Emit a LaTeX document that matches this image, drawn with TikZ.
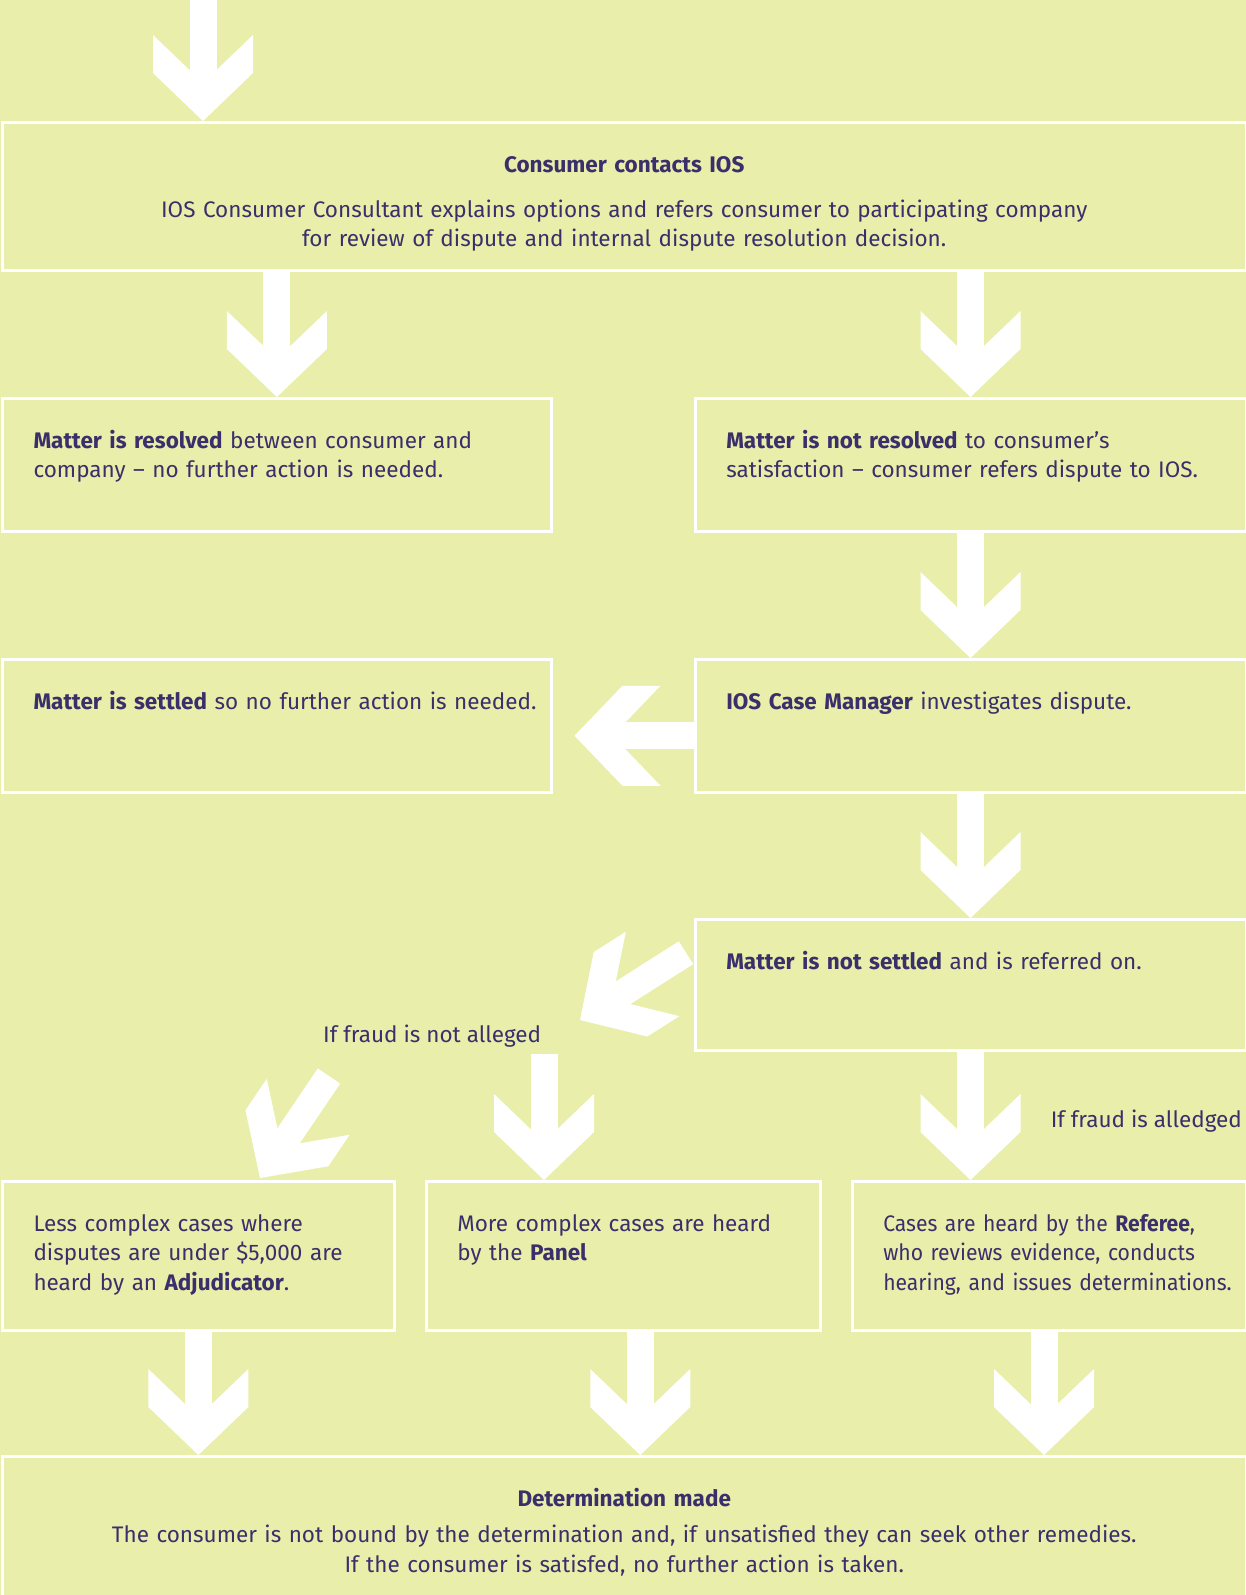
\documentclass[tikz,border=0pt]{standalone}
\usepackage{fontspec}
\setmainfont{Fira Sans}
\hyphenpenalty=10000
\exhyphenpenalty=10000

\definecolor{iosbg}{HTML}{E9EFAA}
\definecolor{iostext}{HTML}{3A2F6B}

\begin{document}
\begin{tikzpicture}[
    x=1pt, y=1pt,
    every node/.style={text=iostext, font=\fontsize{22.5}{29.5}\selectfont},
    box/.style={
      draw=white,
      line width=2.5pt,
      anchor=north west,
      align=left,
      inner xsep=31pt,
      inner ysep=0pt,
      text height=50pt,
    },
    label text/.style={inner sep=0pt},
    flow/.style={draw=white, line width=27pt, shorten >=50pt},
    head/.style={pos=1, sloped, allow upside down},
    flowhead/.pic={
      \fill[white] (0,0) -- (-48,50) -- (-86,50) -- (-51,13.5)
        -- (-51,-13.5) -- (-86,-50) -- (-48,-50) -- cycle;
    },
  ]
  \fill[iosbg] (0,0) rectangle (1246,-1595);
  \useasboundingbox (0,0) rectangle (1246,-1595);

  % boxes
  \node[box, align=center, text width=1181.5pt, text depth=98pt] (consumer) at (1.25,-121)
    {\textbf{Consumer contacts IOS}\\[15.5pt]
     IOS Consumer Consultant explains options and refers consumer to participating company\\
     for review of dispute and internal dispute resolution decision.};
  \node[box, text width=486.75pt, text depth=83pt] (resolved) at (1.25,-397)
    {\textbf{Matter is resolved} between consumer and\\
     company -- no further action is needed.};
  \node[box, text width=488.5pt, text depth=83pt] (notresolved) at (694,-397)
    {\textbf{Matter is not resolved} to consumer's\\
     satisfaction -- consumer refers dispute to IOS.};
  \node[box, text width=486.75pt, text depth=83pt] (settled) at (1.25,-658)
    {\mbox{\textbf{Matter is settled} so no further action is needed.}};
  \node[box, text width=488.5pt, text depth=83pt] (manager) at (694,-658)
    {\textbf{IOS Case Manager} investigates dispute.};
  \node[box, text width=488.5pt, text depth=81pt] (notsettled) at (694,-918)
    {\textbf{Matter is not settled} and is referred on.};
  \node[box, text width=329.75pt, text depth=99pt] (adjudicator) at (1.25,-1180)
    {Less complex cases where\\
     disputes are under \$5,000 are\\
     heard by an \textbf{Adjudicator}.};
  \node[box, text width=332pt, text depth=99pt] (panel) at (425,-1180)
    {More complex cases are heard\\
     by the \textbf{Panel}};
  \node[box, text width=331.5pt, text depth=99pt,
        font=\fontsize{22.5}{29.5}\selectfont\addfontfeatures{FakeStretch=0.94}] (referee) at (851,-1180)
    {\mbox{Cases are heard by the \textbf{Referee},}\\
     \mbox{who reviews evidence, conducts}\\
     \mbox{hearing, and issues determinations.}};
  \node[box, align=center, text width=1181.5pt, text depth=110pt] (determination) at (1.25,-1455)
    {\textbf{Determination made}\\[7pt]
     The consumer is not bound by the determination and, if unsatisfied they can seek other remedies.\\
     If the consumer is satisfed, no further action is taken.};

  \node[label text, anchor=base west] (notalleged) at (323,-1042) {If fraud is not alleged};
  \node[label text, anchor=base east] (alleged) at (1242,-1127) {If fraud is alledged};

  % arrows
  \coordinate (entry) at (203,0);
  \coordinate (notalleged-tip) at (580,-1020);
  \coordinate (adjudicator-from) at (329,-1076);
  \coordinate (adjudicator-tip) at (260,-1178);
  \coordinate (panel-from) at (544,-1054);

  \draw[flow] (entry) -- (entry |- consumer.north) pic[head]{flowhead};
  \draw[flow] (consumer.south -| resolved.north) -- (resolved.north) pic[head]{flowhead};
  \draw[flow] (consumer.south -| notresolved.north) -- (notresolved.north) pic[head]{flowhead};
  \draw[flow] (notresolved.south) -- (manager.north) pic[head]{flowhead};
  \draw[flow] ([yshift=-10pt]manager.west) -- ([xshift=22pt,yshift=-10pt]settled.east) pic[head]{flowhead};
  \draw[flow] (manager.south) -- (notsettled.north) pic[head]{flowhead};
  \draw[flow] ([xshift=-8pt,yshift=32pt]notsettled.west) -- (notalleged-tip) pic[head]{flowhead};
  \draw[flow] (adjudicator-from) -- (adjudicator-tip) pic[head]{flowhead};
  \draw[flow] (panel-from) -- (panel-from |- panel.north) pic[head]{flowhead};
  \draw[flow] (notsettled.south) -- (notsettled.south |- referee.north) pic[head]{flowhead};
  \foreach \src/\dx in {adjudicator/0, panel/17, referee/-5}
    \draw[flow] ([xshift=\dx pt]\src.south) -- ([xshift=\dx pt]\src.south |- determination.north) pic[head]{flowhead};
\end{tikzpicture}
\end{document}
